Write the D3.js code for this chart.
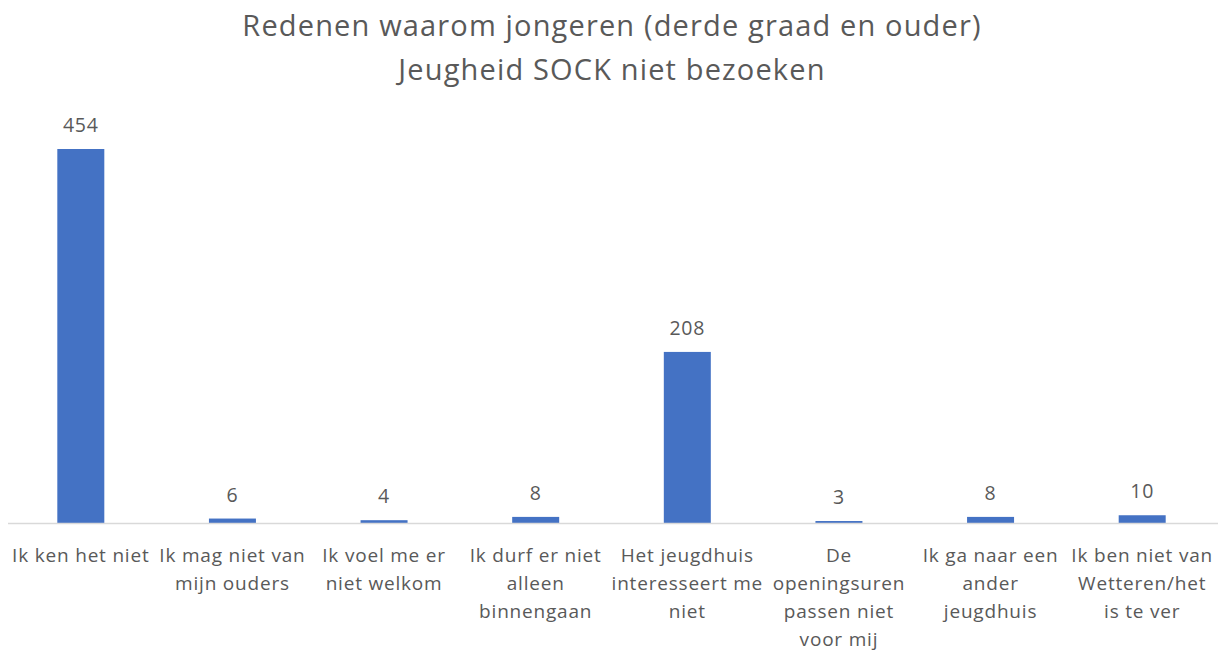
<!DOCTYPE html>
<html>
<head>
<meta charset="utf-8">
<script src="https://cdn.jsdelivr.net/npm/d3@7"></script>
<style>
    body { margin: 0; background: #fff; }
    text { font-family: "Open Sans", "Noto Sans", sans-serif; fill: #595959; }
</style>
</head>
<body>
<div class="main"></div>
<script>
const titleLines = [
    "Redenen waarom jongeren (derde graad en ouder)",
    "Jeugheid SOCK niet bezoeken"
];

const categories = [
    ["Ik ken het niet"],
    ["Ik mag niet van", "mijn ouders"],
    ["Ik voel me er", "niet welkom"],
    ["Ik durf er niet", "alleen", "binnengaan"],
    ["Het jeugdhuis", "interesseert me", "niet"],
    ["De", "openingsuren", "passen niet", "voor mij"],
    ["Ik ga naar een", "ander", "jeugdhuis"],
    ["Ik ben niet van", "Wetteren/het", "is te ver"]
];

const values = [454, 6, 4, 8, 208, 3, 8, 10];

const w = 1219;
const h = 653;
const plotLeft = 5;
const plotRight = 1218;
const baseline = 523.5;
const plotTop = 149;

const svg = d3.select(".main").append("svg").attr("width", w).attr("height", h);

// title
svg.append("g")
    .selectAll("text")
    .data(titleLines)
    .join("text")
    .attr("x", 612)
    .attr("y", (d, i) => 36 + i * 44)
    .attr("text-anchor", "middle")
    .attr("font-size", 29)
    .attr("letter-spacing", 1.15)
    .text((d) => d);

const keys = categories.map((c, i) => i);

const xScale = d3.scaleBand().domain(keys).range([plotLeft, plotRight]).paddingInner(0.69).paddingOuter(0.345);
const yScale = d3.scaleLinear().domain([0, 454]).range([baseline, plotTop]);

// bars
svg.selectAll("rect.bar")
    .data(values)
    .join("rect")
    .attr("class", "bar")
    .attr("x", (d, i) => xScale(i))
    .attr("width", xScale.bandwidth())
    .attr("y", (d) => yScale(d))
    .attr("height", (d) => baseline - yScale(d))
    .attr("fill", "#4472C4");

// axis line
svg.append("line")
    .attr("x1", 8)
    .attr("x2", plotRight)
    .attr("y1", baseline)
    .attr("y2", baseline)
    .attr("stroke", "#d9d9d9")
    .attr("stroke-width", 1.5);

// value labels
svg.selectAll("text.value")
    .data(values)
    .join("text")
    .attr("class", "value")
    .attr("x", (d, i) => xScale(i) + xScale.bandwidth() / 2)
    .attr("y", (d) => yScale(d) - 17)
    .attr("text-anchor", "middle")
    .attr("font-size", 19.5)
    .attr("letter-spacing", 0.8)
    .text((d) => d);

// category labels
const cat = svg.selectAll("text.cat")
    .data(categories)
    .join("text")
    .attr("class", "cat")
    .attr("text-anchor", "middle")
    .attr("font-size", 19)
    .attr("letter-spacing", 0.8);

cat.selectAll("tspan")
    .data((d, i) => d.map((line) => ({ line, i })))
    .join("tspan")
    .attr("x", (d) => xScale(d.i) + xScale.bandwidth() / 2)
    .attr("y", (d, j) => 561.5 + j * 28)
    .text((d) => d.line);
</script>
</body>
</html>
